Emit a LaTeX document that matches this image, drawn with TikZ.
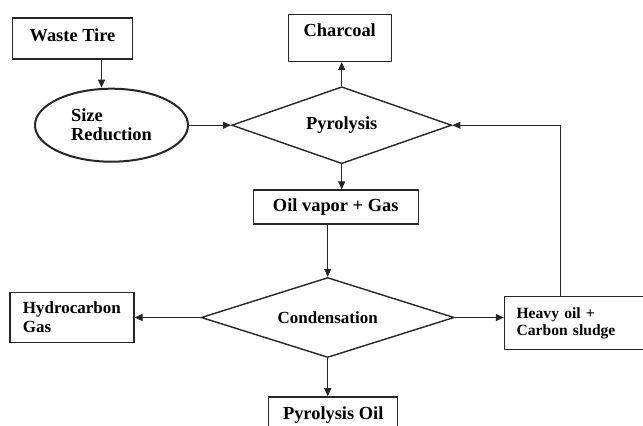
\documentclass[tikz,border=0pt]{standalone}
\usepackage{fontspec}
\setmainfont{Liberation Serif}
\usetikzlibrary{shapes.geometric, arrows.meta, positioning}

\begin{document}
\begin{tikzpicture}[
        node distance=0.4cm,
        box/.style={rectangle, draw=black!85, line width=0.7pt, inner sep=2pt, align=center, font=\fontsize{9.2}{9.5}\selectfont\bfseries},
        oval/.style={ellipse, draw=black!85, line width=1pt, inner sep=0pt, align=left, font=\fontsize{9.2}{9.5}\selectfont\bfseries},
        decision/.style={diamond, draw=black!85, line width=0.7pt, inner sep=1pt, font=\fontsize{9.2}{9.5}\selectfont\bfseries},
        arrow/.style={draw=black!85, line width=0.5pt, -{Triangle[length=4pt,width=3.5pt]}}
    ]
        \useasboundingbox (0,0) rectangle (321.5pt,-212.5pt);
        \clip (0,0) rectangle (321.5pt,-212.5pt);

        \node[box, minimum width=60pt, minimum height=20.5pt, text depth=3.5pt] (waste) at (36.25pt,-19.25pt) {Waste Tire};
        \node[oval, minimum width=76.5pt, minimum height=36.5pt, below=14pt of waste, xshift=19.5pt] (size) {Size\\Reduction};
        \node[decision, aspect=2.86, minimum width=110pt, minimum height=38.5pt, right=21pt of size] (pyro) {Pyrolysis};
        \node[box, minimum width=51.5pt, minimum height=23.5pt, text depth=7.6pt, above=12pt of pyro, xshift=-1pt] (charcoal) {Charcoal};
        \node[box, minimum width=82.5pt, minimum height=17pt, below=12.5pt of pyro, xshift=-3pt] (vapor) {Oil vapor + Gas};
        \node[decision, aspect=3.16, minimum width=126.5pt, minimum height=40pt, font=\fontsize{8.5}{9.5}\selectfont\bfseries, below=26pt of vapor, xshift=-4pt] (cond) {Condensation};
        \node[box, minimum width=62pt, minimum height=25pt, align=left, font=\fontsize{8.5}{9.5}\selectfont\bfseries, left=33pt of cond] (hydro) {Hydrocarbon\\Gas};
        \node[box, text width=58pt, inner xsep=6pt, minimum height=26.5pt, align=left, font=\fontsize{7.8}{8.5}\selectfont\bfseries, right=24.5pt of cond, yshift=-2.75pt] (heavy) {Heavy oil +\\Carbon sludge};
        \node[box, minimum width=64.5pt, minimum height=22pt, text depth=6pt, below=19pt of cond, xshift=2.75pt] (pyroil) {Pyrolysis Oil};

        \draw[arrow] ([xshift=14.5pt]waste.south) -- ([xshift=14.5pt]waste.south |- size.north);
        \draw[arrow] (size) -- (pyro);
        \draw[arrow] (pyro.north) -- (pyro.north |- charcoal.south);
        \draw[arrow] (pyro.south) -- (pyro.south |- vapor.north);
        \draw[arrow] (vapor.south -| cond.north) -- (cond.north);
        \draw[arrow] (cond.west) -- (hydro.east);
        \draw[arrow] (cond.east) -- (cond.east -| heavy.west);
        \draw[arrow] (cond.south) -- (cond.south |- pyroil.north);
        \draw[arrow] ([xshift=-7pt]heavy.north) |- (pyro.east);
    \end{tikzpicture}
\end{document}
